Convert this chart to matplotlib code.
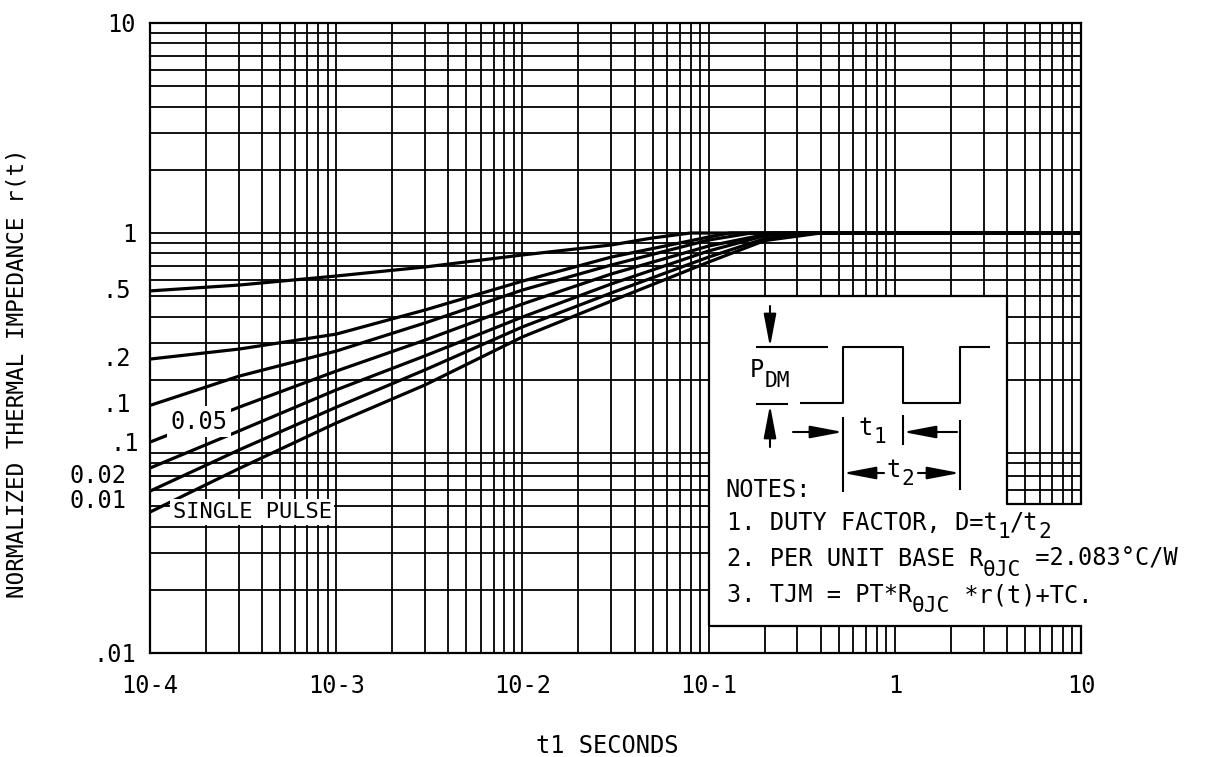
import matplotlib
matplotlib.use("Agg")
import matplotlib.pyplot as plt
from matplotlib.ticker import FixedLocator, LogLocator, NullFormatter, FixedFormatter

# ---------------- data ----------------
t_d05 = [1e-4, 3e-4, 1e-3, 3e-3, 1e-2, 3e-2, 5e-2, 8e-2, 10]
r_d05 = [0.53, 0.565, 0.624, 0.689, 0.786, 0.877, 0.947, 1.0, 1.0]

t_d02 = [1e-4, 3e-4, 1e-3, 3e-3, 1e-2, 3e-2, 0.1, 0.13, 10]
r_d02 = [0.251, 0.280, 0.330, 0.430, 0.590, 0.768, 0.957, 1.0, 1.0]

t_d01 = [1e-4, 3e-4, 1e-3, 3e-3, 1e-2, 3e-2, 0.1, 0.17, 10]
r_d01 = [0.151, 0.208, 0.274, 0.373, 0.535, 0.704, 0.926, 1.0, 1.0]

t_d005 = [1e-4, 3e-4, 1e-3, 3e-3, 1e-2, 3e-2, 0.1, 0.22, 10]
r_d005 = [0.101, 0.148, 0.220, 0.309, 0.459, 0.638, 0.867, 1.0, 1.0]

t_d002 = [1e-4, 3e-4, 1e-3, 3e-3, 1e-2, 3e-2, 0.1, 0.2, 0.28, 10]
r_d002 = [0.076, 0.114, 0.179, 0.260, 0.398, 0.572, 0.821, 0.97, 1.0, 1.0]

t_d001 = [1e-4, 3e-4, 1e-3, 3e-3, 1e-2, 3e-2, 0.1, 0.2, 0.34, 10]
r_d001 = [0.059, 0.0926, 0.148, 0.223, 0.357, 0.518, 0.768, 0.94, 1.0, 1.0]

t_single = [1e-4, 3e-4, 1e-3, 3e-3, 1e-2, 3e-2, 0.1, 0.2, 0.4, 10]
r_single = [0.0469, 0.0755, 0.1245, 0.189, 0.320, 0.474, 0.727, 0.92, 1.0, 1.0]

x_ticks = [1e-4, 1e-3, 1e-2, 1e-1, 1, 10]
x_ticklabels = ["10-4", "10-3", "10-2", "10-1", "1", "10"]
y_ticks = [0.01, 1, 10]
y_ticklabels = [".01", "1", "10"]

series = [
    (t_d05, r_d05, ".5", 0.0, 13.7),
    (t_d02, r_d02, ".2", 0.0, 13.7),
    (t_d01, r_d01, ".1", 0.0, 13.7),
    (t_d005, r_d005, ".1", -1.4, 7.9),
    (t_d002, r_d002, "0.02", -5.8, 16.6),
    (t_d001, r_d001, "0.01", -7.0, 16.6),
    (t_single, r_single, None, 0, 0),
]

# ---------------- figure ----------------
plt.rcParams['font.family'] = ['DejaVu Sans Mono', 'DejaVu Sans']
FS = 17
W, H = 1219, 757
fig = plt.figure(figsize=(W / 100, H / 100), dpi=100)
ax = fig.add_axes([150 / W, 1 - 653 / H, (1081 - 150) / W, (653 - 23) / H])
ax.set_xscale('log')
ax.set_yscale('log')
ax.set_xlim(1e-4, 10)
ax.set_ylim(0.01, 10)

ax.xaxis.set_major_locator(FixedLocator(x_ticks))
ax.xaxis.set_major_formatter(FixedFormatter(x_ticklabels))
ax.xaxis.set_minor_locator(LogLocator(base=10, subs=range(2, 10), numticks=50))
ax.xaxis.set_minor_formatter(NullFormatter())
ax.yaxis.set_major_locator(FixedLocator(y_ticks))
ax.yaxis.set_major_formatter(FixedFormatter(y_ticklabels))
ax.yaxis.set_minor_locator(LogLocator(base=10, subs=range(2, 10), numticks=50))
ax.yaxis.set_minor_formatter(NullFormatter())
ax.tick_params(which='both', length=0)
ax.tick_params(axis='x', pad=15, labelsize=FS)
ax.tick_params(axis='y', pad=10, labelsize=FS)

ax.set_axisbelow(True)
ax.grid(which='both', color='black', lw=1.3)
for s in ax.spines.values():
    s.set_linewidth(1.6)
    s.set_color('black')

for t, r, lab, dy, dx in series:
    ax.plot(t, r, color='black', lw=2.3, zorder=2, solid_capstyle='butt')
    if lab is not None:
        ax.annotate(lab, xy=(t[0], r[0]), xytext=(-dx, dy), textcoords='offset points',
                    ha='right', va='center', fontsize=FS, annotation_clip=False)

ax.text(1.83e-4, 0.126, "0.05", ha='center', va='center', fontsize=FS, zorder=3,
        bbox=dict(boxstyle='square,pad=0.15', fc='white', ec='none'))
ax.text(3.54e-4, 0.0469, "SINGLE PULSE", ha='center', va='center', fontsize=FS * 0.93, zorder=3,
        bbox=dict(boxstyle='square,pad=0.12', fc='white', ec='none'))

# white notes box inside the plot
box_x = [0.1, 4, 4, 10.6, 10.6, 0.1]
box_y = [0.5, 0.5, 0.051, 0.051, 0.0134, 0.0134]
ax.fill(box_x, box_y, color='white', zorder=4, clip_on=False, lw=0)
ax.plot([10, 0.1, 0.1, 4, 4, 10], [0.0134, 0.0134, 0.5, 0.5, 0.051, 0.051],
        color='black', lw=1.6, zorder=4.5, clip_on=False)

fig.text(607 / W, 1 - 746 / H, "t1 SECONDS", ha='center', va='center', fontsize=FS)
fig.text(17 / W, 1 - 373 / H, "NORMALIZED THERMAL IMPEDANCE r(t)", rotation=90,
         ha='center', va='center', fontsize=16.3)

# ---------------- overlay for the pulse diagram and notes (pixel space) ----------------
ov = fig.add_axes([0, 0, 1, 1], zorder=5)
ov.set_xlim(0, W)
ov.set_ylim(H, 0)
ov.axis('off')
ov.patch.set_alpha(0)

LW = 1.5
def arrow(tail, head):
    ov.annotate('', xy=head, xytext=tail,
                arrowprops=dict(arrowstyle='-|>,head_length=2.0,head_width=0.38',
                                mutation_scale=10, color='black', lw=LW,
                                shrinkA=0, shrinkB=0))

def line(xs, ys):
    ov.plot(xs, ys, color='black', lw=LW, solid_capstyle='butt')

def seq_text(x, y, parts, fs=FS, sub_drop=8):
    # monospaced font: advance = 0.6021 em
    for s, sub in parts:
        f = fs * 0.9 if sub else fs
        ov.text(x, y + (sub_drop if sub else 0), s, fontsize=f, va='baseline', ha='left')
        x += len(s) * 0.6021 * f * 100 / 72

arrow((770, 306), (770, 347))
line([756, 828], [347, 347])
line([756, 788], [404, 404])
arrow((770, 447), (770, 405))
line([800, 843, 843, 903, 903, 960, 960, 990], [403, 403, 347, 347, 403, 403, 347, 347])
line([843, 843], [417, 492])
line([903, 903], [415, 445])
line([960, 960], [420, 490])
arrow((793, 432), (843, 432))
arrow((957, 432), (903, 432))
arrow((884, 473), (843, 473))
arrow((918, 473), (960, 473))

seq_text(750, 377, [("P", False), ("DM", True)], sub_drop=10)
seq_text(859, 435, [("t", False), ("1", True)])
seq_text(887, 477, [("t", False), ("2", True)])
ov.text(725, 497, "NOTES:", fontsize=FS, va='baseline', ha='left')
seq_text(727, 530, [("1. DUTY FACTOR, D=t", False), ("1", True), ("/t", False), ("2", True)])
seq_text(727, 566, [("2. PER UNIT BASE R", False), ("θJC", True), (" =2.083°C/W", False)],
         sub_drop=10)
seq_text(727, 602, [("3. TJM = PT*R", False), ("θJC", True), (" *r(t)+TC.", False)],
         sub_drop=10)

fig.savefig("out.png", dpi=100, facecolor='white')
